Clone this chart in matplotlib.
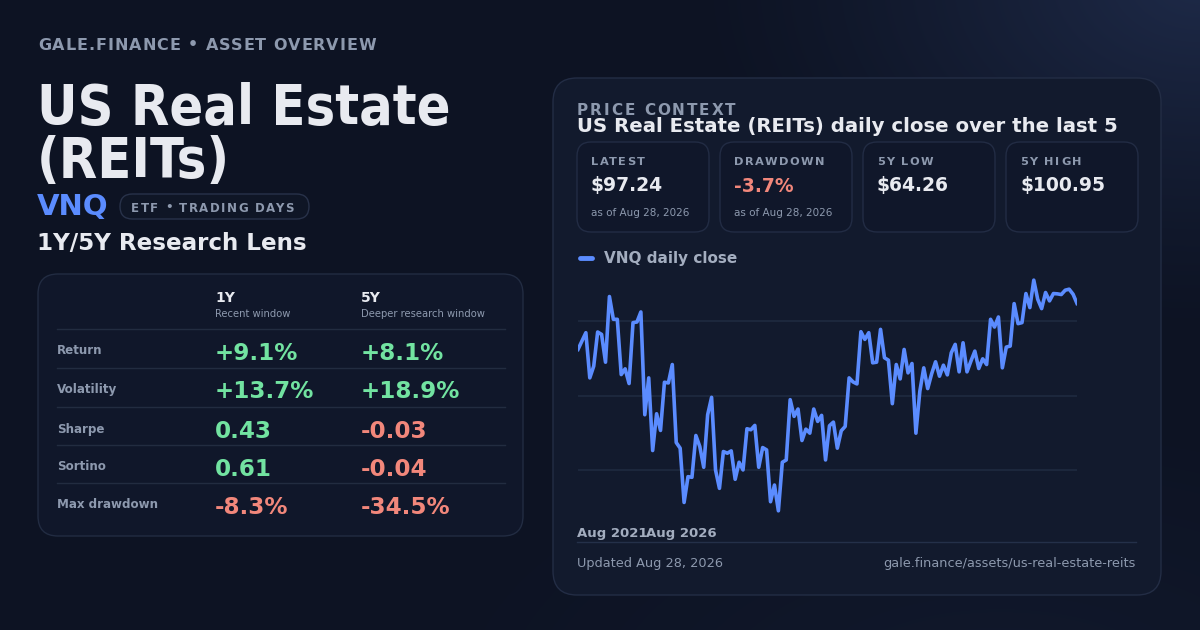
import numpy as np
import matplotlib
matplotlib.use("Agg")
import matplotlib.pyplot as plt
from matplotlib.patches import FancyBboxPatch
from matplotlib import font_manager
from matplotlib.ft2font import FT2Font
from matplotlib.textpath import text_to_path

# Daten
close = [89.93, 91.26, 92.59, 85.40, 87.26, 92.70, 92.32, 87.90, 98.34, 94.72,
         94.72, 85.93, 86.84, 84.50, 94.19, 94.29, 95.89, 79.54, 85.40, 73.85,
         79.70, 77.04, 84.71, 84.60, 87.53, 75.12, 74.22, 65.59, 69.69, 69.59,
         76.24, 74.48, 71.18, 79.54, 82.31, 70.76, 67.83, 73.69, 73.42, 73.79,
         69.27, 71.98, 70.76, 77.31, 77.15, 77.84, 71.18, 74.32, 73.95, 65.70,
         68.36, 64.26, 71.98, 72.35, 81.94, 79.28, 80.45, 75.44, 77.25, 76.61,
         80.45, 78.48, 79.44, 72.35, 77.79, 78.37, 74.22, 76.99, 77.68, 85.40,
         84.76, 84.44, 92.75, 91.52, 92.59, 87.80, 87.90, 93.12, 88.60, 88.22,
         81.30, 87.53, 85.24, 89.93, 86.20, 87.69, 76.61, 83.27, 87.00, 83.70,
         86.04, 87.96, 85.67, 87.42, 85.88, 89.39, 90.73, 86.36, 90.99, 86.36,
         88.06, 89.66, 86.89, 88.44, 87.53, 94.72, 93.49, 95.09, 87.00, 90.30,
         90.46, 97.22, 94.03, 94.19, 98.82, 96.58, 100.95, 97.91, 96.42, 98.98,
         97.65, 98.82, 98.77, 98.66, 99.35, 99.51, 98.71, 97.24]
x_labels = ["Aug 2021", "Aug 2026"]
grid_levels = [70.8, 82.6, 94.5]

metrics = ["Return", "Volatility", "Sharpe", "Sortino", "Max drawdown"]
vals_1y = ["+9.1%", "+13.7%", "0.43", "0.61", "-8.3%"]
vals_5y = ["+8.1%", "+18.9%", "-0.03", "-0.04", "-34.5%"]
good_1y = [True, True, True, True, False]
good_5y = [True, True, False, False, False]

card_labels = ["LATEST", "DRAWDOWN", "5Y LOW", "5Y HIGH"]
card_values = ["$97.24", "-3.7%", "$64.26", "$100.95"]
card_notes = ["as of Aug 28, 2026", "as of Aug 28, 2026", "", ""]
card_red = [False, True, False, False]

# Farben
WHITE = "#e8eaf0"
GRAY = "#8d99ae"
GRAY2 = "#a3adbf"
GREEN = "#72e3a1"
RED = "#f2877b"
BLUE = "#5b8cff"
EDGE = "#222c42"

DPI = 100
fig = plt.figure(figsize=(12, 6.3), dpi=DPI)
bg = fig.add_axes([0, 0, 1, 1])
bg.set_xlim(0, 1200)
bg.set_ylim(630, 0)
bg.axis("off")

# Hintergrund mit Farbverlauf
yy, xx = np.mgrid[0:630, 0:1200]
base = np.array([13, 19, 35]) / 255
glow = np.array([30, 42, 72]) / 255
d = np.sqrt(((xx - 1200) / 520) ** 2 + ((yy + 20) / 360) ** 2)
t = np.clip(1 - d, 0, 1) ** 1.3
d2 = np.sqrt(((xx - 1000) / 600) ** 2 + ((yy - 700) / 300) ** 2)
t2 = 0.25 * np.clip(1 - d2, 0, 1)
img = base + (glow - base) * np.clip(t + t2, 0, 1)[..., None]
bg.imshow(img, extent=[0, 1200, 630, 0], zorder=0, aspect="auto")

_fonts = {}
def advance(ch, prop):
    path = font_manager.findfont(prop)
    if path not in _fonts:
        _fonts[path] = FT2Font(path)
    f = _fonts[path]
    f.set_size(prop.get_size_in_points(), 72)
    g = f.load_char(ord(ch))
    return g.linearHoriAdvance / 65536 * DPI / 72

def glyph_x(s, prop):
    # Stiftpositionen der Zeichen (in Pixel)
    try:
        font = text_to_path._get_font(prop)
        font.set_size(text_to_path.FONT_SCALE, text_to_path.DPI)
        info = text_to_path.get_glyphs_with_font(font, s)[0]
        xs = [g[1] for g in info]
        if len(xs) == len(s):
            k = prop.get_size_in_points() / text_to_path.FONT_SCALE * DPI / 72
            return [x * k for x in xs]
    except Exception:
        pass
    xs, x = [], 0.0
    for ch in s:
        xs.append(x)
        x += advance(ch, prop)
    return xs

def tracked(x, y, s, size, spacing, color, weight="bold", zorder=5):
    # Text mit Buchstabenabstand, y = Grundlinie
    prop = font_manager.FontProperties(family="DejaVu Sans", weight=weight, size=size)
    xs = glyph_x(s, prop)
    for i, ch in enumerate(s):
        if ch != " ":
            bg.text(x + xs[i] + i * spacing, y, ch, fontproperties=prop,
                    color=color, va="baseline", ha="left", zorder=zorder)

def box(x, y, w, h, r, fc, ec=EDGE, z=2):
    p = FancyBboxPatch((x, y), w, h, boxstyle=f"round,pad=0,rounding_size={r}",
                       fc=fc, ec=ec, lw=1, zorder=z)
    bg.add_patch(p)

# Linke Seite: Kopf
tracked(38, 49.5, "GALE.FINANCE • ASSET OVERVIEW", 11.5, 1.0, GRAY)
title_font = font_manager.FontProperties(family="DejaVu Sans", weight="bold",
                                         stretch="condensed", size=40)
bg.text(37, 123.5, "US Real Estate", fontproperties=title_font, color=WHITE,
        va="baseline", ha="left", zorder=5)
bg.text(37, 177.5, "(REITs)", fontproperties=title_font, color=WHITE,
        va="baseline", ha="left", zorder=5)
bg.text(37, 207, "VNQ", fontsize=21, fontweight="bold", color=BLUE,
        va="center", ha="left", zorder=5)
box(120, 194, 189, 25, 12.5, "#0f1626", "#28324a")
tracked(131, 211.5, "ETF • TRADING DAYS", 8.5, 1.4, GRAY)
bg.text(37, 243, "1Y/5Y Research Lens", fontsize=16.6, fontweight="bold",
        color=WHITE, va="center", ha="left", zorder=5)

# Tabelle
box(38, 274, 485, 262, 20, "#10172a")
bg.text(215, 298, "1Y", fontsize=10, fontweight="bold", color=WHITE,
        va="center", ha="left", zorder=5)
bg.text(215, 314, "Recent window", fontsize=7.2, color=GRAY, va="center",
        ha="left", zorder=5)
bg.text(361, 298, "5Y", fontsize=10, fontweight="bold", color=WHITE,
        va="center", ha="left", zorder=5)
bg.text(361, 314, "Deeper research window", fontsize=7.2, color=GRAY,
        va="center", ha="left", zorder=5)
row_y = [352, 391, 430, 468, 506]
for i, name in enumerate(metrics):
    top = row_y[i] - 23
    bg.plot([57, 505], [top, top], color="#222c40", lw=1, zorder=4)
    bg.text(57, row_y[i] - 1, name, fontsize=8.6, fontweight="bold", color=GRAY,
            va="center", ha="left", zorder=5)
    bg.text(215, row_y[i] + 1, vals_1y[i], fontsize=16.6, fontweight="bold",
            color=GREEN if good_1y[i] else RED, va="center", ha="left", zorder=5)
    bg.text(361, row_y[i] + 1, vals_5y[i], fontsize=16.6, fontweight="bold",
            color=GREEN if good_5y[i] else RED, va="center", ha="left", zorder=5)

# Rechte Seite: Panel
box(553, 78, 608, 517, 24, "#121a2d", "#232d45")
tracked(577, 115, "PRICE CONTEXT", 11, 1.9, GRAY, zorder=3)
bg.text(577, 126, "US Real Estate (REITs) daily close over the last 5",
        fontsize=14.2, fontweight="bold", color=WHITE, va="center", ha="left",
        zorder=3)

card_x = [577, 720, 863, 1006]
for i in range(4):
    box(card_x[i], 142, 132, 90, 14, "#10172a", "#222c44", z=4)
    tracked(card_x[i] + 14, 165, card_labels[i], 8.2, 1.4, GRAY, zorder=6)
    bg.text(card_x[i] + 14, 186, card_values[i], fontsize=13.5, fontweight="bold",
            color=RED if card_red[i] else WHITE, va="center", ha="left", zorder=6)
    if card_notes[i]:
        bg.text(card_x[i] + 14, 213, card_notes[i], fontsize=7.5, color=GRAY,
                va="center", ha="left", zorder=6)

# Legende
bg.plot([580, 592], [258, 258], color=BLUE, lw=3.5, solid_capstyle="round", zorder=6)
bg.text(604, 258, "VNQ daily close", fontsize=11, fontweight="bold", color=GRAY2,
        va="center", ha="left", zorder=6)

# Achsen-Beschriftung und Fußzeile
bg.text(577, 533, x_labels[0], fontsize=9.5, fontweight="bold", color=GRAY2,
        va="center", ha="left", zorder=6)
bg.text(646, 533, x_labels[1], fontsize=9.5, fontweight="bold", color=GRAY2,
        va="center", ha="left", zorder=6)
bg.plot([577, 1136], [541.5, 541.5], color="#243049", lw=1, zorder=6)
bg.text(577, 563, "Updated Aug 28, 2026", fontsize=9.3, color=GRAY, va="center",
        ha="left", zorder=6)
bg.text(1136, 563, "gale.finance/assets/us-real-estate-reits", fontsize=9.25,
        color=GRAY, va="center", ha="right", zorder=6)

# Linienchart
ax = fig.add_axes([578 / 1200, 1 - 544.5 / 630, (1077 - 578) / 1200, 298 / 630])
ax.set_facecolor("none")
idx = np.arange(len(close))
for lvl in grid_levels:
    ax.axhline(lvl, color="#1f2a40", lw=1.2, zorder=1)
ax.plot(idx, close, color=BLUE, lw=2.6, solid_joinstyle="round", zorder=3)
ax.set_xlim(0, len(close) - 1)
ax.set_ylim(58.9, 106.3)
ax.axis("off")

fig.savefig("out.png", dpi=DPI)
